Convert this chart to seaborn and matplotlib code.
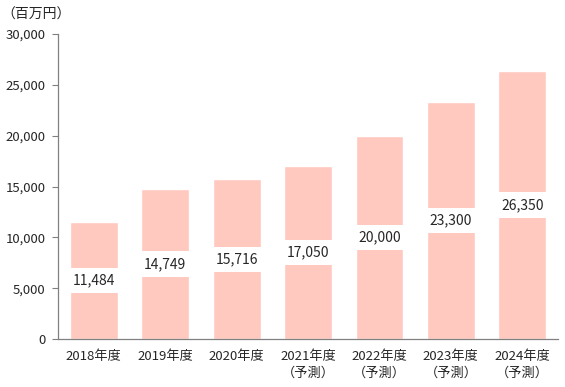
import matplotlib
matplotlib.use("Agg")
import matplotlib.pyplot as plt
import seaborn as sns
import pandas as pd
import numpy as np

categories = ["2018年度", "2019年度", "2020年度", "2021年度\n（予測）", "2022年度\n（予測）", "2023年度\n（予測）", "2024年度\n（予測）"]
values = [11484, 14749, 15716, 17050, 20000, 23300, 26350]
value_labels = ["11,484", "14,749", "15,716", "17,050", "20,000", "23,300", "26,350"]
yticks = [0, 5000, 10000, 15000, 20000, 25000, 30000]
ytick_labels = ["0", "5,000", "10,000", "15,000", "20,000", "25,000", "30,000"]
unit_label = "（百万円）"

sns.set_theme(style="white")
plt.rcParams['font.family'] = ['Noto Sans CJK JP', 'DejaVu Sans']

df = pd.DataFrame({"cat": categories, "val": values})

fig = plt.figure(figsize=(5.65, 3.87), dpi=100)
ax = fig.add_axes([58/565, 1 - 339/387, 500/565, 305/387])

sns.barplot(data=df, x="cat", y="val", color="#FFC9C0", saturation=1, width=0.67, ax=ax)

ax.set_ylim(0, 30000)
ax.set_xlim(-0.5, len(categories) - 0.5)
ax.set_yticks(yticks)
ax.set_yticklabels(ytick_labels, fontsize=9.5)
ax.set_xlabel("")
ax.set_ylabel("")
ax.tick_params(axis="x", labelsize=9.5, length=0, pad=8)
for t in ax.get_xticklabels():
    t.set_linespacing(1.35)
ax.set_xticks(np.arange(-0.5, len(categories) + 0.5, 1), minor=True)
ax.tick_params(axis="x", which="minor", length=4, color="#808080", width=0.8, direction="out")
ax.tick_params(axis="y", length=4, color="#808080", width=0.8, direction="out", left=True, pad=5)
for s in ["top", "right"]:
    ax.spines[s].set_visible(False)
for s in ["left", "bottom"]:
    ax.spines[s].set_color("#808080")
    ax.spines[s].set_linewidth(0.9)

for i, (v, lab) in enumerate(zip(values, value_labels)):
    ax.text(i, v / 2, lab, ha="center", va="center", fontsize=10,
            bbox=dict(boxstyle="square,pad=0.4", facecolor="white", edgecolor="none"))

fig.text(1/565, 1 - 15/387, unit_label, ha="left", va="center", fontsize=10)

fig.savefig("out.png", dpi=100)
